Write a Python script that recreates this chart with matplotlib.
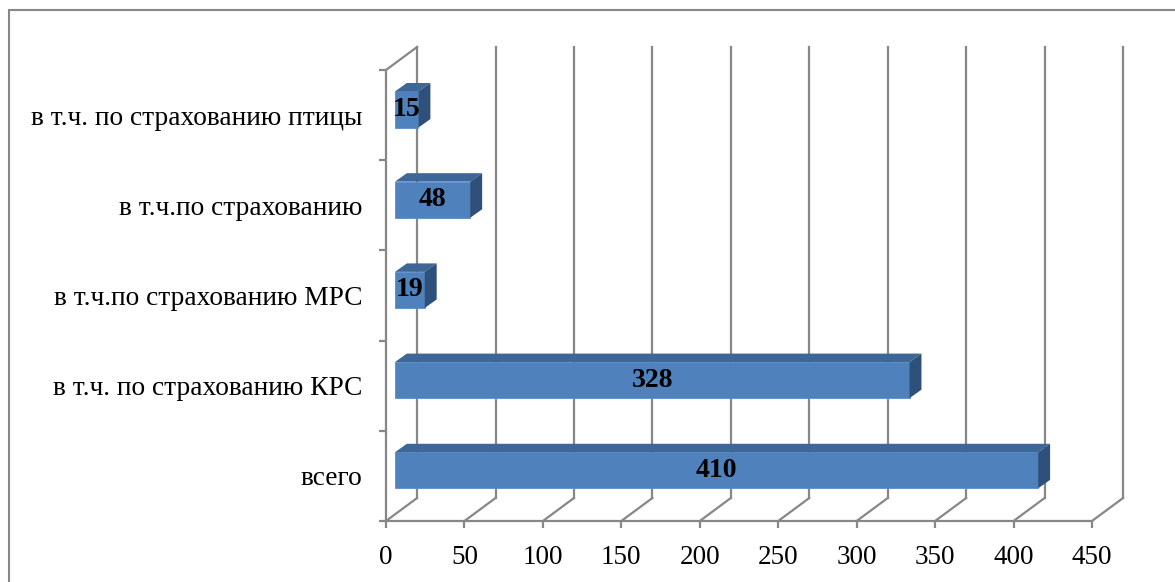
import numpy as np
import matplotlib.pyplot as plt
from matplotlib.patches import Polygon, Rectangle

# Changing graphs style
plt.rcParams['font.family'] = ['Liberation Serif', 'DejaVu Serif']
plt.rcParams['font.size'] = 19.5

#_______________________________________________________
# data

categories = ['всего',
              'в т.ч. по страхованию КРС',
              'в т.ч.по страхованию МРС',
              'в т.ч.по страхованию',
              'в т.ч. по страхованию птицы']
values = [410, 328, 19, 48, 15]
x_ticks = [0, 50, 100, 150, 200, 250, 300, 350, 400, 450]

# colours
grid_color = '#878787'
front_color = '#4F81BD'
top_color = '#3D6797'
side_color = '#2F507A'

# depth offsets (data units) of the 3d look
back_dx, back_dy = 19.8, 0.255      # back wall
bar_dx, bar_dy = 5.7, 0.062         # front face of the bars
depth_dx, depth_dy = 7.6, 0.094     # thickness of the bars
bar_h = 0.40

fig = plt.figure(figsize=(11.75, 5.82), dpi=100)
ax = fig.add_axes([386/1175, 61/582, 706/1175, 451/582])
ax.set_xlim(0, 450)
ax.set_ylim(-0.5, 4.5)

# outer frame of the chart (cut at right and bottom like the original)
fig.patches.append(Rectangle((9/1175, -0.1), 1.2, (582-10)/582 + 0.1,
                             transform=fig.transFigure, fill=False,
                             edgecolor=grid_color, lw=1.5))

# back wall gridlines and floor diagonals
for v in x_ticks:
    ax.plot([v + back_dx, v + back_dx], [-0.5 + back_dy, 4.5 + back_dy],
            color=grid_color, lw=1.6, clip_on=False, zorder=1)
    ax.plot([v, v + back_dx], [-0.5, -0.5 + back_dy],
            color=grid_color, lw=1.6, clip_on=False, zorder=1)
# top left diagonal of the side wall
ax.plot([0, back_dx], [4.5, 4.5 + back_dy], color=grid_color, lw=1.6,
        clip_on=False, zorder=1)

# spines and ticks
for s in ['top', 'right']:
    ax.spines[s].set_visible(False)
for s in ['left', 'bottom']:
    ax.spines[s].set_color(grid_color)
    ax.spines[s].set_linewidth(1.6)

ax.set_xticks(x_ticks)
ax.set_xticklabels([str(v) for v in x_ticks])
ax.set_yticks(np.arange(-0.5, 5, 1))
ax.set_yticklabels([])
ax.set_yticks(range(len(categories)), minor=True)
ax.set_yticklabels(categories, minor=True, fontsize=19.7)
ax.tick_params(axis='x', length=5, width=1.6, color=grid_color, pad=12)
ax.tick_params(axis='y', which='major', length=5, width=1.6, color=grid_color)
ax.tick_params(axis='y', which='minor', length=0, pad=17)
ax.patch.set_alpha(0)

# bars: front face, then top and side faces
y = np.arange(len(values)) + bar_dy
ax.barh(y, values, height=bar_h, left=bar_dx, color=front_color,
        edgecolor='#5B8CC8', lw=0.6, zorder=3, clip_on=False)

for yi, v in zip(y, values):
    x0, x1 = bar_dx, bar_dx + v
    y0, y1 = yi - bar_h/2, yi + bar_h/2
    top = Polygon([(x0, y1), (x1, y1), (x1 + depth_dx, y1 + depth_dy),
                   (x0 + depth_dx, y1 + depth_dy)], closed=True,
                  facecolor=top_color, edgecolor='none', zorder=3, clip_on=False)
    side = Polygon([(x1, y0), (x1 + depth_dx, y0 + depth_dy),
                    (x1 + depth_dx, y1 + depth_dy), (x1, y1)], closed=True,
                   facecolor=side_color, edgecolor='none', zorder=3, clip_on=False)
    ax.add_patch(top)
    ax.add_patch(side)
    ax.text(x0 + v/2, yi, str(v), ha='center', va='center',
            fontweight='bold', fontsize=20, zorder=4)

plt.savefig('out.png')
